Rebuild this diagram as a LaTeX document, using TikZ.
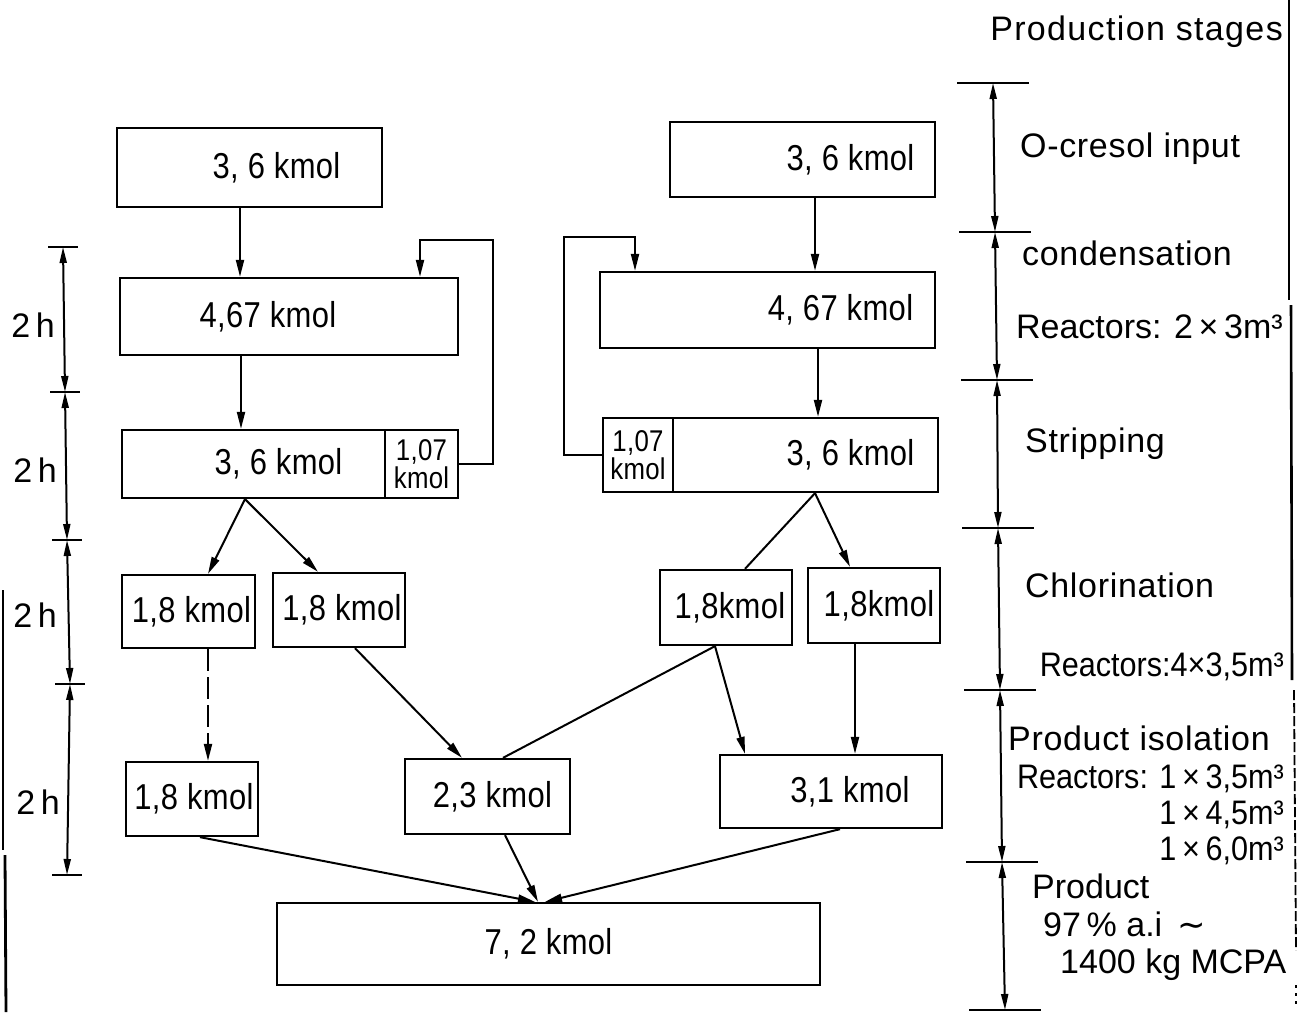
\documentclass[tikz,border=0pt]{standalone}
\usepackage{fontspec}
\setmainfont{Liberation Sans}
\newfontfamily\narrowfont{Liberation Sans}[FakeStretch=0.86,LetterSpace=1]
\newfontfamily\labnarrow{Liberation Sans}[FakeStretch=0.9]
\newfontfamily\dejavu{DejaVu Sans}
\usetikzlibrary{arrows.meta}
\begin{document}
\begin{tikzpicture}[x=1pt,y=-1pt,
  box/.style={draw, line width=2.3pt, inner sep=0pt, font=\narrowfont\fontsize{36}{38}\selectfont},
  sbox/.style={draw, line width=2.3pt, inner sep=0pt, align=center, font=\narrowfont\fontsize{30}{28}\selectfont},
  flow/.style={line width=2pt, -{Triangle[length=17pt,width=8pt]}},
  plain/.style={line width=2pt},
  dim/.style={line width=2pt, {Triangle[length=16pt,width=7pt]}-{Triangle[length=16pt,width=7pt]}},
  lbl/.style={font=\fontsize{34}{36}\selectfont, inner sep=0pt},
  wlbl/.style={lbl, font=\addfontfeature{LetterSpace=2}\fontsize{34}{36}\selectfont},
  nlbl/.style={lbl, font=\labnarrow\fontsize{34}{36}\selectfont}
]
\useasboundingbox (0,0) rectangle (1305,1012);

% ---------- left column boxes ----------
\node[box, minimum width=265pt, minimum height=79pt] (a1) at (249.5,167.5) {\hspace*{54pt}3, 6 kmol};
\node[box, minimum width=338pt, minimum height=77pt] (a2) at (289,316.5) {4,67 kmol\hspace*{42pt}};
\node[box, minimum width=263pt, minimum height=68pt] (a3) at (253.5,464) {\hspace*{50pt}3, 6 kmol};
\node[sbox, minimum width=73pt, minimum height=68pt] (a3s) at (421.5,464) {1,07\\kmol};

\node[box, minimum width=133pt, minimum height=73pt] (b1) at (188.5,611.5) {\hspace*{6pt}1,8 kmol};
\node[box, minimum width=132pt, minimum height=74pt] (b2) at (339,610) {\hspace*{6pt}1,8 kmol};
\node[box, minimum width=132pt, minimum height=74pt] (c1) at (192,799) {\hspace*{4pt}1,8 kmol};
\node[box, minimum width=165pt, minimum height=75pt] (c2) at (487.5,796.5) {\hspace*{10pt}2,3 kmol};

% ---------- right column boxes ----------
\node[box, minimum width=265pt, minimum height=75pt] (r1) at (802.5,159.5) {\hspace*{96pt}3, 6 kmol};
\node[box, minimum width=335pt, minimum height=76pt] (r2) at (767.5,310) {\hspace*{146pt}4, 67 kmol};
\node[box, minimum width=265pt, minimum height=74pt] (r3) at (805.5,455) {\hspace*{90pt}3, 6 kmol};
\node[sbox, minimum width=70pt, minimum height=74pt] (r3s) at (638,455) {1,07\\kmol};

\node[box, minimum width=132pt, minimum height=75pt] (b3) at (726,607.5) {\hspace*{8pt}1,8kmol};
\node[box, minimum width=132pt, minimum height=75pt] (b4) at (874,605.5) {\hspace*{10pt}1,8kmol};
\node[box, minimum width=222pt, minimum height=73pt] (c3) at (831,791.5) {\hspace*{38pt}3,1 kmol};

\node[box, minimum width=543pt, minimum height=82pt] (d) at (548.5,944) {7, 2 kmol};

% ---------- connectors, left ----------
\draw[flow] (a1.south -| 240,0) -- (a2.north -| 240,0);
\draw[flow] (a2.south -| 241,0) -- (a3.north -| 241,0);
\draw[flow] (a3s.east) -- ++(34,0) |- (420,240) -- (a2.north -| 420,0);
\draw[flow] (a3.south -| 245,0) -- (b1.north -| 208,0);
\draw[flow] (a3.south -| 245,0) -- (b2.north -| 318,0);
\draw[flow, dash pattern=on 22pt off 6pt] (b1.south -| 208,0) -- (c1.north -| 208,0);
\draw[flow] (b2.south -| 355,0) -- (c2.north -| 462,0);
\draw[plain] (b3.south -| 715,0) -- (c2.north -| 503,0);
\draw[flow] (c1.south -| 200,0) -- (d.north -| 535,0);
\draw[flow] (c2.south -| 505,0) -- (d.north -| 538,0);
\draw[flow] (c3.south -| 840,0) -- (d.north -| 545,0);

% ---------- connectors, right ----------
\draw[flow] (r1.south -| 815,0) -- (r2.north -| 815,0);
\draw[flow] (r2.south -| 818,0) -- (r3.north -| 818,0);
\draw[flow] (r3s.west) -- ++(-38,0) |- (635,237) -- (r2.north -| 635,0);
\draw[plain] (r3.south -| 815,0) -- (b3.north -| 745,0);
\draw[flow] (r3.south -| 815,0) -- (b4.north -| 850,0);
\draw[flow] (b3.south -| 715,0) -- (c3.north -| 745,0);
\draw[flow] (b4.south -| 855,0) -- (c3.north -| 855,0);

% ---------- left time scale ----------
\coordinate (L1) at (63,247);
\coordinate (L2) at (65,392);
\coordinate (L3) at (67,540);
\coordinate (L4) at (70,684);
\coordinate (L5) at (67,875);
\foreach \p in {L1,L2,L3,L4,L5} \draw[plain] ([xshift=-15pt]\p) -- ([xshift=15pt]\p);
\draw[dim] (L1) -- (L2);
\draw[dim] (L2) -- (L3);
\draw[dim] (L3) -- (L4);
\draw[dim] (L4) -- (L5);
\node[lbl] (h1) at (33,325) {2\,h};
\node[lbl] (h2) at (35,470) {2\,h};
\node[lbl] (h3) at (35,615) {2\,h};
\node[lbl] (h4) at (38,802) {2\,h};

% ---------- right time scale ----------
\coordinate (R1) at (993,83);
\coordinate (R2) at (995,232);
\coordinate (R3) at (997,380);
\coordinate (R4) at (998,528);
\coordinate (R5) at (1000,690);
\coordinate (R6) at (1002,862);
\coordinate (R7) at (1005,1010);
\foreach \p in {R1,R2,R3,R4,R5,R6,R7} \draw[plain] ([xshift=-36pt]\p) -- ([xshift=36pt]\p);
\draw[dim] (R1) -- (R2);
\draw[dim] (R2) -- (R3);
\draw[dim] (R3) -- (R4);
\draw[dim] (R4) -- (R5);
\draw[dim] (R5) -- (R6);
\draw[dim] (R6) -- (R7);

% ---------- stage labels ----------
\node[lbl, anchor=base east, font=\addfontfeature{LetterSpace=4}\fontsize{34}{36}\selectfont] (t0) at (1283,40) {Production stages};
\node[wlbl, anchor=base west] (t1) at (1020,157) {O-cresol input};
\node[wlbl, anchor=base west] (t2) at (1022,265) {condensation};
\node[lbl, anchor=base east] (t3) at (1283,338) {Reactors: 2\,×\,3m³};
\node[wlbl, anchor=base west] (t4) at (1025,452) {Stripping};
\node[wlbl, anchor=base west] (t5) at (1025,597) {Chlorination};
\node[nlbl, anchor=base east] (t6) at (1284,676) {Reactors:4×3,5m³};
\node[wlbl, anchor=base west] (t7) at (1008,750) {Product isolation};
\node[nlbl, anchor=base east] (t8) at (1284,788) {Reactors: 1\,×\,3,5m³};
\node[nlbl, anchor=base east] (t9) at (1284,824) {1\,×\,4,5m³};
\node[nlbl, anchor=base east] (t10) at (1284,860) {1\,×\,6,0m³};
\node[lbl, anchor=base west] (t11) at (1032,898) {Product};
\node[lbl, anchor=base west] (t12) at (1043,936) {97\,\% a.i \,{\dejavu ∼}};
\node[lbl, anchor=base west] (t13) at (1060,973) {1400 kg MCPA};

% ---------- frame lines ----------
\draw[line width=2.6pt] (1289,0) -- (1289,300);
\draw[line width=2.6pt] (1291,305) -- (1292,680);
\draw[line width=1.8pt, dash pattern=on 10pt off 3pt] (1294,690) -- (1296,950);
\draw[line width=1.8pt, dash pattern=on 3pt off 5pt] (1296,985) -- (1296,1005);
\draw[line width=2.8pt] (3,590) -- (3,850);
\draw[line width=2.8pt] (5,855) -- (6,1012);
\end{tikzpicture}
\end{document}
